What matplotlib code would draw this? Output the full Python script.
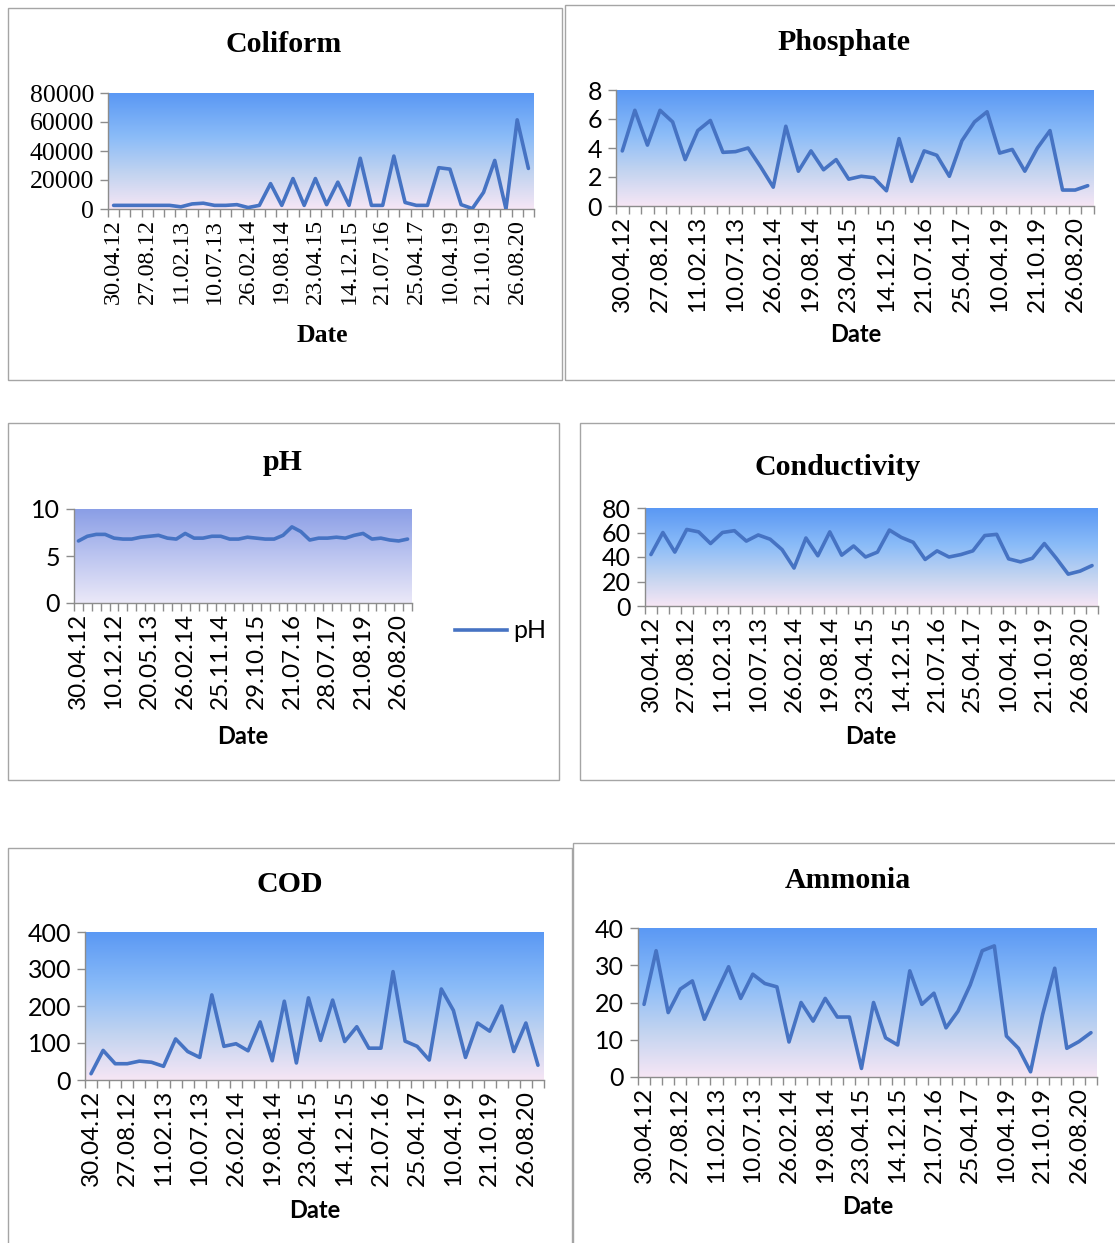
import numpy as np
import matplotlib
matplotlib.use("Agg")
import matplotlib.pyplot as plt
from matplotlib.colors import LinearSegmentedColormap
from matplotlib.patches import Rectangle
from matplotlib.lines import Line2D

W, H = 1115, 1243

# Sampling dates shown on the category axes
labels_every3 = ["30.04.12", "27.08.12", "11.02.13", "10.07.13", "26.02.14", "19.08.14",
                 "23.04.15", "14.12.15", "21.07.16", "25.04.17", "10.04.19", "21.10.19",
                 "26.08.20"]
labels_every4 = ["30.04.12", "10.12.12", "20.05.13", "26.02.14", "25.11.14", "29.10.15",
                 "21.07.16", "28.07.17", "21.08.19", "26.08.20"]

# Measured parameters, one value per sampling date
coliform = [2500, 2500, 2500, 2500, 2500, 2500, 1500, 3500, 4000, 2500, 2500, 3000, 1000,
            2500, 17500, 2500, 21000, 2500, 21000, 3000, 18500, 2500, 35000, 2500, 2500,
            36500, 4500, 2500, 2500, 28500, 27500, 3000, 300, 11500, 33500, 0, 61500, 28000]
phosphate = [3.8, 6.6, 4.2, 6.6, 5.8, 3.2, 5.2, 5.9, 3.7, 3.75, 4.0, 2.7, 1.3, 5.5, 2.4, 3.8,
             2.5, 3.2, 1.85, 2.05, 1.95, 1.05, 4.65, 1.7, 3.8, 3.5, 2.05, 4.5, 5.8, 6.5, 3.65,
             3.9, 2.4, 4.0, 5.2, 1.1, 1.1, 1.4]
ph = [6.6, 7.1, 7.3, 7.3, 6.9, 6.8, 6.8, 7.0, 7.1, 7.2, 6.9, 6.8, 7.4, 6.9, 6.9, 7.1, 7.1,
      6.8, 6.8, 7.0, 6.9, 6.8, 6.8, 7.2, 8.1, 7.6, 6.7, 6.9, 6.9, 7.0, 6.9, 7.2, 7.4, 6.8,
      6.9, 6.7, 6.6, 6.8]
conductivity = [42, 60, 44, 62.5, 60.5, 51, 60, 61.5, 53, 58, 54.5, 46, 31, 55.5, 41, 60.5,
                41.5, 49, 40, 44, 62, 56, 52, 38, 45, 40, 42, 45, 57.5, 58.5, 38.5, 36, 39,
                51, 39, 26, 28.5, 33]
cod = [17, 80, 44, 44, 51, 48, 37, 111, 77, 61, 230, 91, 98, 79, 157, 52, 213, 46, 222, 107,
       216, 104, 144, 86, 86, 293, 105, 91, 54, 246, 188, 61, 154, 132, 200, 77, 154, 40]
ammonia = [19.5, 33.9, 17.3, 23.6, 25.8, 15.5, 22.7, 29.6, 21.1, 27.6, 25.1, 24.2, 9.4, 20,
           15, 21.1, 16.1, 16.1, 2.3, 20, 10.5, 8.6, 28.5, 19.5, 22.5, 13.2, 17.7, 24.7, 33.9,
           35.2, 11, 7.7, 1.4, 16.8, 29.2, 7.7, 9.5, 11.9]

LINE = "#4673c3"
AXIS_GREY = "#8c8c8c"
SERIF = "Liberation Serif"
SANS = "Lato"

sky = LinearSegmentedColormap.from_list(
    "sky", [(0.0, "#f6e6f5"), (0.3, "#c3d4f0"), (0.62, "#8bbcf8"), (1.0, "#5a98f4")])
lavender = LinearSegmentedColormap.from_list(
    "lavender", [(0.0, "#ebe8f8"), (0.5, "#bcc5f0"), (1.0, "#8a9ee6")])

fig = plt.figure(figsize=(W / 100, H / 100), dpi=100)


def to_fig(x0, y0, x1, y1):
    return [x0 / W, 1 - y1 / H, (x1 - x0) / W, (y1 - y0) / H]


def panel(box, axbox, title, title_xy, date_xy, values, labels, step, yticks,
          serif_ticks=False, serif_date=False, cmap=sky):
    bx = to_fig(*box)
    fig.add_artist(Rectangle((bx[0], bx[1]), bx[2], bx[3], transform=fig.transFigure,
                             fill=False, edgecolor="#a5a5a5", lw=1.0))
    ax = fig.add_axes(to_fig(*axbox))
    grad = np.linspace(0, 1, 256).reshape(-1, 1)
    ax.imshow(grad, cmap=cmap, origin="lower", extent=[0, 1, 0, 1],
              transform=ax.transAxes, aspect="auto", zorder=0)
    n = len(values)
    x = np.arange(n)
    ax.plot(x, values, color=LINE, lw=2.6, solid_joinstyle="round",
            solid_capstyle="round", zorder=3)
    ax.set_xlim(-0.5, n - 0.5)
    ax.set_ylim(yticks[0], yticks[-1])

    tick_family = SERIF if serif_ticks else SANS
    xsize = 17.5 if serif_ticks else 17.5
    ysize = 18.5 if serif_ticks else 18
    # boundary tick marks between categories
    ax.set_xticks(np.arange(n + 1) - 0.5)
    ax.set_xticklabels([])
    ax.tick_params(axis="x", which="major", length=6, width=1, color=AXIS_GREY,
                   direction="out")
    # date labels at category centres
    ax.set_xticks(np.arange(len(labels)) * step, labels, minor=True)
    ax.tick_params(axis="x", which="minor", length=0, pad=7, labelrotation=90,
                   labelsize=xsize)
    for t in ax.get_xticklabels(minor=True):
        t.set_fontfamily(tick_family)
    ax.set_yticks(yticks)
    ax.set_yticklabels([f"{v:g}" for v in yticks])
    ax.tick_params(axis="y", length=6, width=1, color=AXIS_GREY, pad=4, labelsize=ysize)
    for t in ax.get_yticklabels():
        t.set_fontfamily(tick_family)
    for s in ("top", "right"):
        ax.spines[s].set_visible(False)
    for s in ("left", "bottom"):
        ax.spines[s].set_color(AXIS_GREY)
        ax.spines[s].set_linewidth(1.0)

    fig.text(title_xy[0] / W, 1 - title_xy[1] / H, title, ha="center", va="center",
             family=SERIF, weight="bold", size=21.5)
    fig.text(date_xy[0] / W, 1 - date_xy[1] / H, "Date", ha="center", va="center",
             family=SERIF if serif_date else SANS, weight="bold",
             size=18.5 if serif_date else 17)
    return ax


panel((8, 8, 562, 380), (108, 93, 534, 209), "Coliform", (284, 45), (322, 336),
      coliform, labels_every3, 3, [0, 20000, 40000, 60000, 80000],
      serif_ticks=True, serif_date=True)
panel((565, 5, 1130, 380), (616, 90, 1094, 206), "Phosphate", (844, 43), (856, 335),
      phosphate, labels_every3, 3, [0, 2, 4, 6, 8])
ax_ph = panel((8, 423, 559, 780), (74, 509, 412, 603), "pH", (283, 463), (243, 737),
              ph, labels_every4, 4, [0, 5, 10], cmap=lavender)
panel((580, 423, 1130, 780), (645, 508, 1098, 606), "Conductivity", (838, 468), (871, 736),
      conductivity, labels_every3, 3, [0, 20, 40, 60, 80])
panel((8, 848, 572, 1260), (85, 932, 544, 1080), "COD", (290, 885), (315, 1210),
      cod, labels_every3, 3, [0, 100, 200, 300, 400])
panel((573, 843, 1130, 1260), (638, 928, 1097, 1077), "Ammonia", (848, 881), (868, 1207),
      ammonia, labels_every3, 3, [0, 10, 20, 30, 40])

fig.legend([Line2D([], [], color=LINE, lw=2.6)], ["pH"], loc="center left",
           bbox_to_anchor=(432 / W, 1 - 631 / H), frameon=False, handlelength=2.1,
           handletextpad=0.25, prop={"family": SANS, "size": 18})

fig.savefig("out.png", dpi=100)
